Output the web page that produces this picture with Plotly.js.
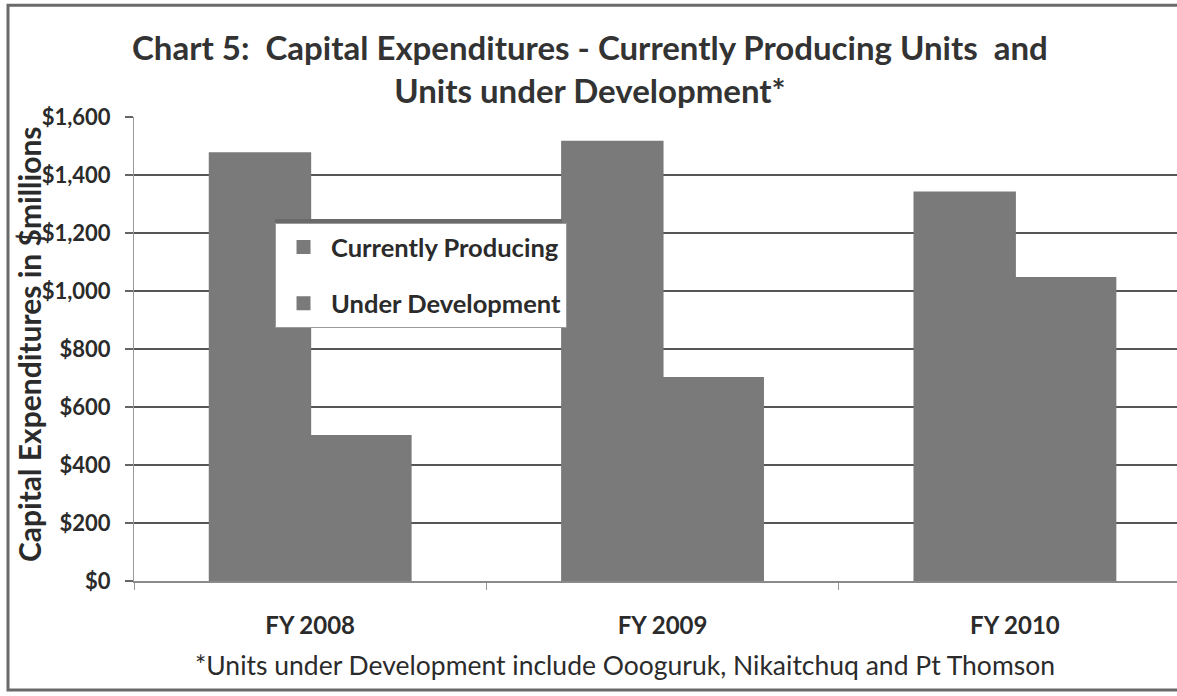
<!DOCTYPE html>
<html>
<head>
<meta charset="utf-8">
<script src="https://cdn.plot.ly/plotly-3.0.1.min.js"></script>
<style>html,body{margin:0;padding:0;background:#fff;}#chart{width:1177px;height:696px;}</style>
</head>
<body>
<div id="chart"></div>
<script>
const categories = ["FY 2008", "FY 2009", "FY 2010"];
const currentlyProducing = [1475, 1515, 1340];
const underDevelopment = [500, 700, 1045];
const seriesNames = ["Currently Producing", "Under Development"];
const yTickValues = [0, 200, 400, 600, 800, 1000, 1200, 1400, 1600];
const yTickLabels = ["$0", "$200", "$400", "$600", "$800", "$1,000", "$1,200", "$1,400", "$1,600"];
const titleText = "Chart 5:  Capital Expenditures - Currently Producing Units  and<br>Units under Development*";
const yTitleText = "Capital Expenditures in $millions";
const footnoteText = "*Units under Development include Oooguruk, Nikaitchuq and Pt Thomson";

const FONT = "Lato, 'Open Sans', sans-serif";
const barColor = "#7a7a7a";
const textColor = "#2b2b2b";

const traces = [
  {type: "bar", x: categories, y: currentlyProducing, name: seriesNames[0], legendgroup: "a",
   marker: {color: barColor, line: {width: 2, color: barColor}}},
  {type: "bar", x: categories, y: underDevelopment, name: seriesNames[1], legendgroup: "b",
   marker: {color: barColor, line: {width: 2, color: barColor}}}
];

const layout = {
  width: 1177, height: 696,
  margin: {l: 134, r: 0, t: 117, b: 115},
  paper_bgcolor: "#ffffff", plot_bgcolor: "#ffffff",
  barmode: "group", bargap: 0.43, bargroupgap: 0,
  font: {family: FONT, color: textColor},
  xaxis: {
    type: "category", range: [-0.5, 2.46], showgrid: false,
    showline: true, linecolor: "#8a8a8a", linewidth: 1.5,
    ticks: "outside", tickson: "boundaries", ticklen: 7, tickcolor: "#9a9a9a", tickwidth: 1,
    ticklabelstandoff: 23,
    tickfont: {family: FONT, size: 24, color: textColor, weight: "bold"}
  },
  yaxis: {
    range: [0, 1600], tickvals: yTickValues, ticktext: yTickLabels,
    showgrid: true, gridcolor: "#555555", gridwidth: 1.8,
    zeroline: false, showline: true, linecolor: "#9a9a9a", linewidth: 1,
    ticks: "outside", ticklen: 8, tickcolor: "#666666", tickwidth: 1.5,
    ticklabelstandoff: 10,
    tickfont: {family: FONT, size: 22, color: textColor, weight: "bold"}
  },
  showlegend: true,
  legend: {
    x: 0.1352, y: 0.7716, xanchor: "left", yanchor: "top",
    bgcolor: "#ffffff", bordercolor: "#9a9a9a", borderwidth: 1,
    traceorder: "grouped", tracegroupgap: 20,
    font: {family: FONT, size: 25.5, color: textColor, weight: "bold"},
    itemwidth: 45
  },
  annotations: [
    {text: "<b>" + titleText + "</b>", xref: "paper", yref: "paper", x: 0.4372, y: 1.1056,
     showarrow: false, xanchor: "center", yanchor: "middle", align: "center",
     font: {family: FONT, size: 33, color: "#333333"}},
    {text: "<b>" + yTitleText + "</b>", xref: "paper", yref: "paper", x: -0.1, y: 0.51,
     textangle: -90, showarrow: false, xanchor: "center", yanchor: "middle",
     font: {family: FONT, size: 30, color: textColor}},
    {text: footnoteText, xref: "paper", yref: "paper", x: 0.4708, y: -0.181,
     showarrow: false, xanchor: "center", yanchor: "middle",
     font: {family: FONT, size: 26.5, color: textColor}}
  ],
  shapes: [
    {type: "rect", xref: "paper", yref: "paper", x0: -0.1208, x1: 1.02, y0: -0.235, y1: 1.241,
     line: {color: "#6a6a6a", width: 3}, fillcolor: "rgba(0,0,0,0)", layer: "above"},
    {type: "line", xref: "paper", yref: "paper", x0: 0.1352, x1: 0.4104, y0: 0.7759, y1: 0.7759,
     line: {color: "#6a6a6a", width: 4}, layer: "above"}
  ]
};

Plotly.newPlot("chart", traces, layout, {displayModeBar: false, staticPlot: true});
</script>
</body>
</html>
